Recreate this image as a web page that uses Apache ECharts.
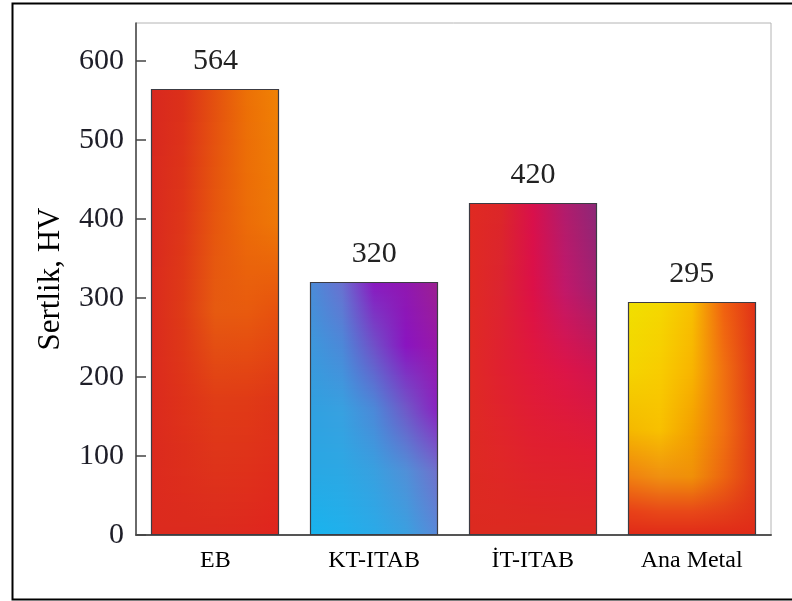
<!DOCTYPE html>
<html>
<head>
<meta charset="utf-8">
<script src="https://cdn.jsdelivr.net/npm/echarts@6/dist/echarts.min.js"></script>
<style>
html,body{margin:0;padding:0;background:#fff;}
#chart{width:792px;height:601px;}
</style>
</head>
<body>
<div id="chart"></div>
<script>
// ---- data ----
const categories = ['EB', 'KT-ITAB', 'İT-ITAB', 'Ana Metal'];
const hardness = [564, 320, 420, 295];
const yTicks = [0, 100, 200, 300, 400, 500, 600];
const yAxisName = 'Sertlik, HV';

// ---- styles: 2D colour grids for each bar (rows top->bottom, columns left->right) ----
const colPos = [0, 0.25, 0.5, 0.75, 1];
const barFills = [
  [ // EB
    [0.0, ['#d8281f', '#dc3019', '#e4500f', '#ec7006', '#f08204']],
    [0.3, ['#d9291f', '#de3618', '#e6560e', '#ec6c08', '#ee7806']],
    [0.5, ['#da2a1e', '#de3a16', '#e65a10', '#e85a0e', '#e6500e']],
    [0.7, ['#db2a1e', '#de3219', '#e03c16', '#e03a16', '#de3418']],
    [1.0, ['#dc2a1e', '#dc2a1e', '#dc2a1e', '#de281e', '#e0241e']]
  ],
  [ // KT-ITAB
    [0.0, ['#4a8cd8', '#6a70d0', '#8a18c0', '#9018b0', '#9c2090']],
    [0.25, ['#3c98dc', '#4c88d8', '#7050c8', '#8a14c0', '#9818a8']],
    [0.5, ['#30a0e0', '#38a0e0', '#4c88d8', '#7058c8', '#8a20c0']],
    [0.75, ['#28a8e4', '#2ca8e4', '#38a0e0', '#5090d8', '#7070cc']],
    [1.0, ['#18b4ee', '#20b0ec', '#2aaae8', '#3aa0e0', '#5a88d8']]
  ],
  [ // IT-ITAB
    [0.0, ['#e02a22', '#dc2628', '#d8104c', '#b01c6c', '#8c2878']],
    [0.25, ['#e02a22', '#dc2430', '#dc1048', '#c0186a', '#a02070']],
    [0.5, ['#e02a24', '#e02030', '#e0183c', '#dc1448', '#d01450']],
    [0.75, ['#de2a22', '#e02628', '#e0202e', '#e01e30', '#e01c34']],
    [1.0, ['#dc2a20', '#dc2a20', '#dc2a20', '#dc2a22', '#dc2a22']]
  ],
  [ // Ana Metal
    [0.0, ['#f0e000', '#f4d800', '#f8c000', '#f06010', '#e03018']],
    [0.3, ['#f4d400', '#f8cc00', '#f8b400', '#f07010', '#e03418']],
    [0.55, ['#f4b800', '#f8c000', '#f4a000', '#f07010', '#e03818']],
    [0.75, ['#f08010', '#f09010', '#f09008', '#ec6410', '#e03818']],
    [0.9, ['#e84018', '#e84818', '#e84818', '#e44018', '#e03218']],
    [1.0, ['#e02a18', '#e02a18', '#e02a18', '#e02a18', '#e02a18']]
  ]
];

function hex2rgb(h) {
  return [parseInt(h.substr(1, 2), 16), parseInt(h.substr(3, 2), 16), parseInt(h.substr(5, 2), 16)];
}
function mix(a, b, f) {
  const A = hex2rgb(a), B = hex2rgb(b);
  return 'rgb(' + [0, 1, 2].map(k => Math.round(A[k] + (B[k] - A[k]) * f)).join(',') + ')';
}
function rowColors(grid, t) {
  let i = 0;
  while (i < grid.length - 2 && t > grid[i + 1][0]) i++;
  const r0 = grid[i], r1 = grid[i + 1];
  const f = Math.max(0, Math.min(1, (t - r0[0]) / (r1[0] - r0[0])));
  return r0[1].map((c, k) => mix(c, r1[1][k], f));
}

const chart = echarts.init(document.getElementById('chart'), null, {renderer: 'canvas'});
const serif = '"Liberation Serif", "DejaVu Serif", serif';

function renderItem(params, api) {
  const i = api.value(0), v = api.value(1);
  const topPt = api.coord([i, v]);
  const basePt = api.coord([i, 0]);
  const bw = Math.round(api.size([1, 0])[0] * 0.806);
  const x = Math.round(topPt[0] - bw / 2), y = Math.round(topPt[1]);
  const yb = Math.round(basePt[1]);
  const h = yb - y;
  const grid = barFills[params.dataIndex];
  const children = [];
  // base fill so no gaps can show through
  children.push({
    type: 'rect',
    shape: {x: x, y: y, width: bw, height: h},
    style: {fill: grid[grid.length - 1][1][2]},
    silent: true
  });
  for (let py = y; py < yb; py++) {
    const t = (py - y + 0.5) / h;
    const cols = rowColors(grid, t);
    const stops = cols.map((c, j) => ({offset: colPos[j], color: c}));
    children.push({
      type: 'rect',
      shape: {x: x, y: py, width: bw, height: py < yb - 1 ? 2 : 1},
      style: {fill: new echarts.graphic.LinearGradient(0, 0, 1, 0, stops)},
      silent: true
    });
  }
  children.push({
    type: 'rect',
    shape: {x: x + 0.5, y: y + 0.5, width: bw - 1, height: h - 1},
    style: {fill: 'none', stroke: '#3c3c44', lineWidth: 1.2}
  });
  children.push({
    type: 'text',
    style: {
      text: String(v), x: topPt[0], y: y - 13,
      align: 'center', verticalAlign: 'bottom',
      font: '30px ' + serif, fill: '#222'
    }
  });
  return {type: 'group', children: children};
}

chart.setOption({
  animation: false,
  backgroundColor: '#fff',
  graphic: [{
    type: 'rect', left: 10, top: 1,
    shape: {width: 800, height: 596},
    style: {fill: 'none', stroke: '#000', lineWidth: 2},
    z: 100
  }],
  grid: {left: 136, right: 21, top: 23, bottom: 66, show: true, borderColor: '#b4b4b4', borderWidth: 1},
  xAxis: {
    type: 'category',
    data: categories,
    axisTick: {show: false},
    axisLine: {lineStyle: {color: '#555', width: 2}},
    axisLabel: {color: '#000', fontFamily: serif, fontSize: 24, margin: 14}
  },
  yAxis: {
    type: 'value',
    min: 0, max: 648, interval: 100,
    name: yAxisName,
    nameLocation: 'middle',
    nameRotate: 90,
    nameGap: 70,
    nameTextStyle: {color: '#000', fontFamily: serif, fontSize: 31},
    splitLine: {show: false},
    axisLine: {show: true, lineStyle: {color: '#444', width: 1.5}},
    axisTick: {show: true, inside: true, length: 10, lineStyle: {color: '#444', width: 1.5}, customValues: yTicks},
    axisLabel: {color: '#1e1e28', fontFamily: serif, fontSize: 30, margin: 12, customValues: yTicks}
  },
  series: [{
    type: 'custom',
    renderItem: renderItem,
    encode: {x: 0, y: 1},
    data: hardness.map((v, i) => [i, v])
  }]
});
</script>
</body>
</html>
